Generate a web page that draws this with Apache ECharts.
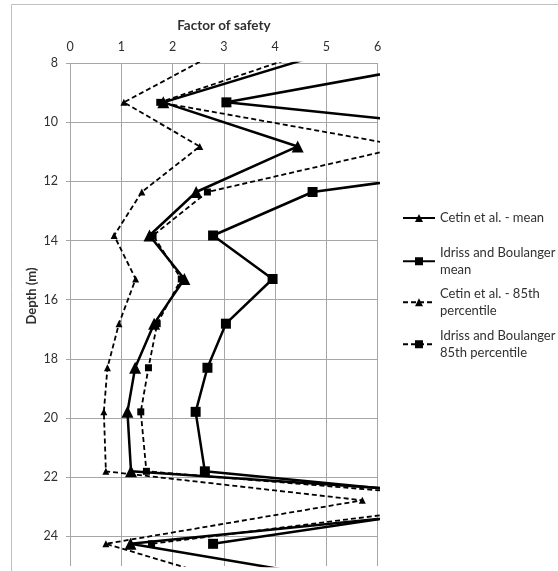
<!DOCTYPE html>
<html>
<head>
<meta charset="utf-8">
<script src="https://cdn.jsdelivr.net/npm/echarts@6/dist/echarts.min.js"></script>
<style>html,body{margin:0;padding:0;background:#fff;}#c{width:558px;height:571px;}</style>
</head>
<body>
<div id="c"></div>
<script>
// Depth (m) of each reading
const depths = [7.83, 9.33, 10.82, 12.36, 13.83, 15.3, 16.81, 18.3, 19.79, 21.8, 22.78, 24.25, 25.75];
// Factor of safety per series
const cetinMean = [4.67, 1.82, 4.44, 2.46, 1.55, 2.23, 1.64, 1.27, 1.12, 1.19, 9.6, 1.18, 6.3];
const idrissMean = [7.8, 3.05, 11.3, 4.73, 2.79, 3.95, 3.04, 2.68, 2.45, 2.63, 8.5, 2.79, null];
const cetin85 = [2.67, 1.05, 2.53, 1.40, 0.86, 1.28, 0.955, 0.73, 0.66, 0.70, 5.70, 0.70, 3.6];
const idriss85 = [4.32, 1.75, 6.55, 2.68, 1.62, 2.17, 1.70, 1.53, 1.38, 1.49, 8.4, 1.59, null];
const seriesNames = ['Cetin et al. - mean', 'Idriss and Boulanger\nmean', 'Cetin et al. - 85th\npercentile', 'Idriss and Boulanger\n85th percentile'];
const xTicks = [0, 1, 2, 3, 4, 5, 6];

const FONT = 'Lato';
const TXT = '#303030';
function pairs(vals) {
  const out = [];
  vals.forEach((v, i) => { if (v != null) out.push([v, depths[i]]); });
  return out;
}
const chart = echarts.init(document.getElementById('c'));
const lineCommon = { type: 'line', clip: true, animation: false, color: '#000' };
const legendText = { fontFamily: FONT, fontSize: 13, color: TXT, lineHeight: 16.5 };
function mkLegend(name, top, twoLine) {
  return {
    data: [name], left: 402, top: top, orient: 'vertical', padding: 0,
    itemWidth: 32, itemHeight: 10, itemGap: 0, selectedMode: false,
    textStyle: Object.assign({}, legendText, twoLine ? { padding: [16.5, 0, 0, 0] } : {})
  };
}
chart.setOption({
  animation: false,
  backgroundColor: '#fff',
  grid: { left: 70, right: 180.3, top: 63, height: 503 },
  xAxis: {
    type: 'value', position: 'top', min: xTicks[0], max: xTicks[xTicks.length - 1], interval: 1,
    name: 'Factor of safety', nameLocation: 'middle', nameGap: 30,
    nameTextStyle: { fontFamily: FONT, fontSize: 13.5, fontWeight: 'bold', color: TXT },
    axisLine: { show: false }, axisTick: { show: false },
    axisLabel: { fontFamily: FONT, fontSize: 12.5, color: TXT, margin: 10 },
    splitLine: { show: true, lineStyle: { color: '#a6a6a6', width: 1 } }
  },
  yAxis: {
    type: 'value', inverse: true, min: 8, max: 25, interval: 2,
    axisLine: { show: false },
    axisTick: { show: true, length: 4, lineStyle: { color: '#a6a6a6' } },
    axisLabel: { fontFamily: FONT, fontSize: 12.5, color: TXT, margin: 12, showMaxLabel: false,
      formatter: v => (v % 2 === 0 ? String(v) : '') },
    splitLine: { show: true, showMaxLine: false, lineStyle: { color: '#a6a6a6', width: 1 } }
  },
  legend: [
    mkLegend(seriesNames[0], 209.75, false),
    mkLegend(seriesNames[1], 236.5, true),
    mkLegend(seriesNames[2], 277.5, true),
    mkLegend(seriesNames[3], 319.5, true)
  ],
  graphic: [
    { type: 'rect', shape: { x: 11.5, y: 4.5, width: 560, height: 600 }, style: { fill: 'none', stroke: '#c0c0c0', lineWidth: 1 }, silent: true, z: -10 },
    { type: 'text', x: 31.5, y: 296, rotation: Math.PI / 2,
      style: { text: 'Depth (m)', fontFamily: FONT, fontSize: 13, fontWeight: 'bold', fill: TXT, align: 'center', verticalAlign: 'middle' } }
  ],
  series: [
    Object.assign({}, lineCommon, { name: seriesNames[0], data: pairs(cetinMean), symbol: 'triangle', symbolSize: 12,
      lineStyle: { color: '#000', width: 2.5, type: 'solid' }, itemStyle: { color: '#000' } }),
    Object.assign({}, lineCommon, { name: seriesNames[1], data: pairs(idrissMean), symbol: 'rect', symbolSize: 10,
      lineStyle: { color: '#000', width: 2.5, type: 'solid' }, itemStyle: { color: '#000' } }),
    Object.assign({}, lineCommon, { name: seriesNames[2], data: pairs(cetin85), symbol: 'triangle', symbolSize: 7,
      lineStyle: { color: '#000', width: 1.8, type: [5, 3] }, itemStyle: { color: '#000' } }),
    Object.assign({}, lineCommon, { name: seriesNames[3], data: pairs(idriss85), symbol: 'rect', symbolSize: 7,
      lineStyle: { color: '#000', width: 1.8, type: [5, 3] }, itemStyle: { color: '#000' } })
  ]
});
</script>
</body>
</html>
